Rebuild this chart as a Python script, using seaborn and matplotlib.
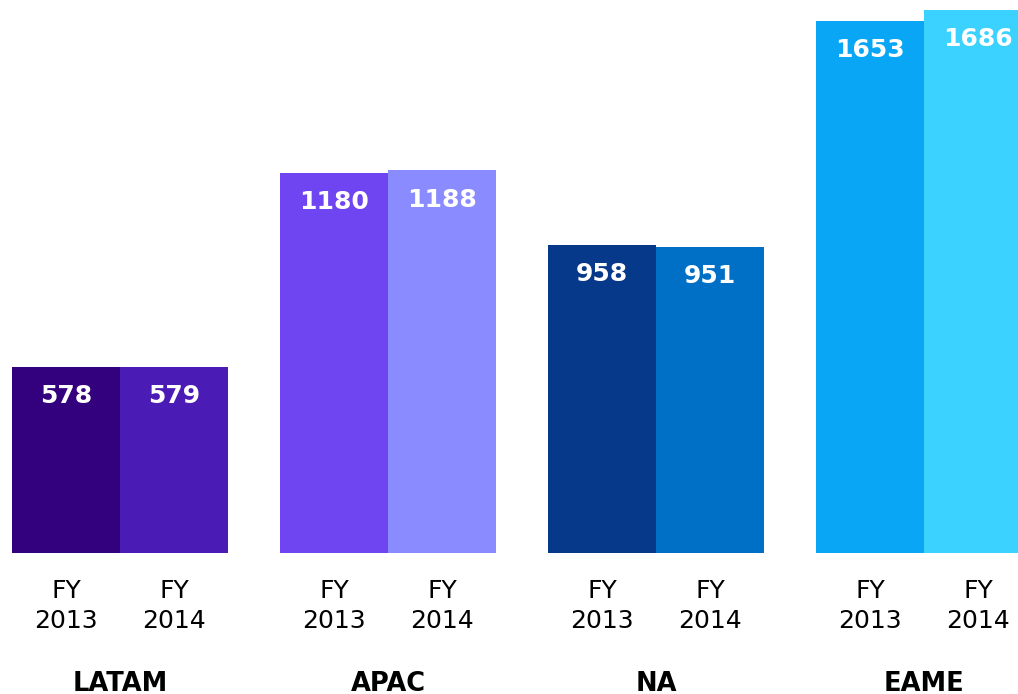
import matplotlib
matplotlib.use("Agg")
import matplotlib.pyplot as plt
import seaborn as sns
import pandas as pd

# data
regions = ['LATAM', 'APAC', 'NA', 'EAME']
years = ['FY\n2013', 'FY\n2014']
values_2013 = [578, 1180, 958, 1653]
values_2014 = [579, 1188, 951, 1686]
colors_2013 = ['#33007e', '#6e45f0', '#07398a', '#0aa6f6']
colors_2014 = ['#4b1bb5', '#8a8bff', '#0070c6', '#3cd2ff']

group_step = 268 / 108  # distance between groups in bar widths

rows = []
palette = []
for i, reg in enumerate(regions):
    for j, (vals, cols) in enumerate([(values_2013, colors_2013), (values_2014, colors_2014)]):
        rows.append({'pos': i * group_step + j, 'value': vals[i],
                     'bar': f'{reg} {j}', 'year': years[j], 'region': reg})
        palette.append(cols[i])
df = pd.DataFrame(rows)

sns.set_style('white')
plt.rcParams['font.family'] = ['DejaVu Sans']

fig = plt.figure(figsize=(10.18, 6.94), dpi=100)
ax = fig.add_axes([0, 141 / 694, 1, 553 / 694])

sns.barplot(data=df, x='pos', y='value', hue='bar', palette=palette,
            native_scale=True, dodge=False, width=1, saturation=1,
            linewidth=0, legend=False, ax=ax)

for _, r in df.iterrows():
    ax.annotate(str(r['value']), (r['pos'], r['value']), xytext=(0, -21),
                textcoords='offset points', ha='center', va='center',
                color='white', fontsize=18, fontweight='bold')
    ax.text(r['pos'], -26 / 553, r['year'], transform=ax.get_xaxis_transform(),
            ha='center', va='top', fontsize=18, linespacing=1.3, color='black')

for i, reg in enumerate(regions):
    ax.text(i * group_step + 0.5, -118 / 553, reg, transform=ax.get_xaxis_transform(),
            ha='center', va='top', fontsize=18.5, fontweight='bold', color='black')

ax.set_xlim(-66 / 108, (1018 - 66) / 108)
ax.set_ylim(0, 553 / 0.322)
ax.set_xticks([])
ax.set_yticks([])
ax.set_xlabel('')
ax.set_ylabel('')
sns.despine(ax=ax, left=True, bottom=True)

fig.savefig('out.png', dpi=100)
